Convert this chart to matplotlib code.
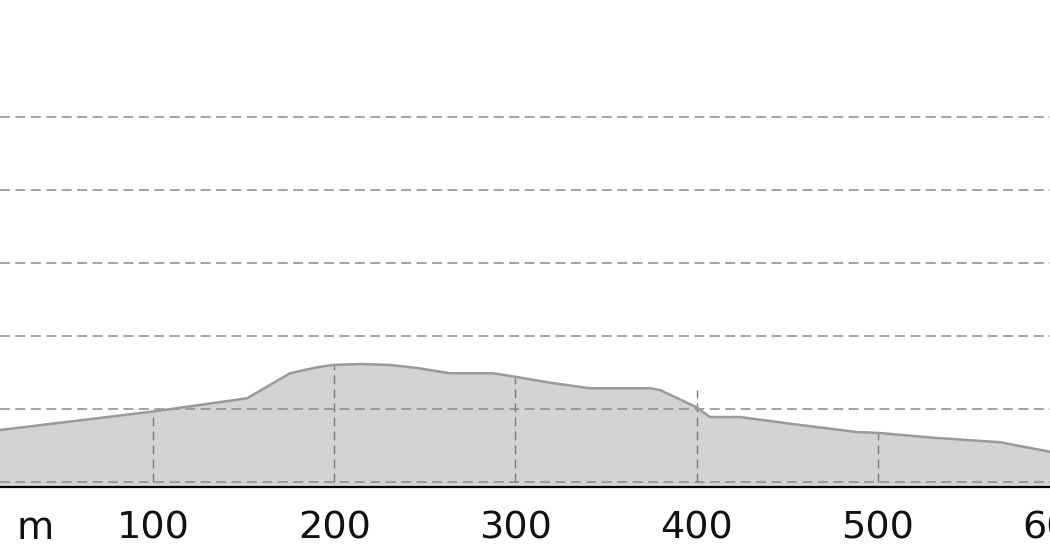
import numpy as np
import matplotlib
matplotlib.use("Agg")
import matplotlib.pyplot as plt
from matplotlib.ticker import FixedLocator, FixedFormatter

# distance along route (m) and elevation (relative units, 10 per grid line)
distance = [15.6, 100, 125.9, 151.9, 175.6, 190.5, 199.3, 215.0, 230.8, 245.7, 263.9,
            287.6, 300.8, 319.0, 341.1, 374.2, 379.7, 399.6, 407.3, 423.9, 457.0,
            488.4, 501.1, 530.3, 567.3, 594.9]
elevation = [7.12, 9.66, 10.55, 11.47, 14.89, 15.71, 16.03, 16.16, 16.03, 15.62, 14.89,
             14.89, 14.38, 13.60, 12.84, 12.84, 12.60, 10.27, 8.90, 8.90, 7.81,
             6.85, 6.71, 6.07, 5.45, 4.15]

# distance markers with the height their dashed marker line reaches
marker_dist = [100, 200, 300, 400, 500]
marker_elev = [9.66, 16.05, 14.3, 12.6, 6.71]
tick_labels = ["100", "200", "300", "400", "500", "600"]
tick_values = [100, 200, 300, 400, 500, 600]
unit_label = "m"
unit_pos = 35.2

grid_levels = [0, 10, 20, 30, 40, 50]

fig = plt.figure(figsize=(10.5, 5.6), dpi=100)
ax = fig.add_axes([0, 1 - 487 / 560, 1, 487 / 560])

xmin, xmax = 15.6, 594.9
ax.set_xlim(xmin, xmax)
ax.set_ylim(-0.68, 66.0)

dash = (0, (6.5, 3.6))
for g in grid_levels:
    ax.axhline(g, color="#8a8a8a", lw=1.1, ls=dash, zorder=3)

ax.fill_between(distance, elevation, -5, color="#d3d3d3", lw=0, zorder=1)
ax.plot(distance, elevation, color="#9a9a9a", lw=1.8, zorder=4, solid_capstyle="round")

for d, e in zip(marker_dist, marker_elev):
    ax.plot([d, d], [0, e], color="#7a7a7a", lw=1.0, ls=dash, zorder=3)

for s in ["top", "left", "right"]:
    ax.spines[s].set_visible(False)
ax.spines["bottom"].set_color("black")
ax.spines["bottom"].set_linewidth(1.6)
ax.spines["bottom"].set_zorder(5)

label_size = 27.5
label_pad = 17
label_color = "#111111"

ax.set_yticks([])
inside = [v for v in tick_values if xmin <= v <= xmax]
ax.xaxis.set_major_locator(FixedLocator(inside))
ax.xaxis.set_major_formatter(FixedFormatter([tick_labels[tick_values.index(v)] for v in inside]))
ax.xaxis.set_minor_locator(FixedLocator([unit_pos]))
ax.xaxis.set_minor_formatter(FixedFormatter([unit_label]))
ax.tick_params(axis="x", which="both", length=0, pad=label_pad,
               labelsize=label_size, labelcolor=label_color)

# labels whose position lies beyond the visible range are cut by the image edge
for v, lab in zip(tick_values, tick_labels):
    if v not in inside:
        ax.annotate(lab, xy=(v, 0), xycoords=("data", "axes fraction"),
                    xytext=(0, -label_pad), textcoords="offset points",
                    ha="center", va="top", fontsize=label_size, color=label_color,
                    annotation_clip=False)

fig.savefig("out.png", dpi=100)
